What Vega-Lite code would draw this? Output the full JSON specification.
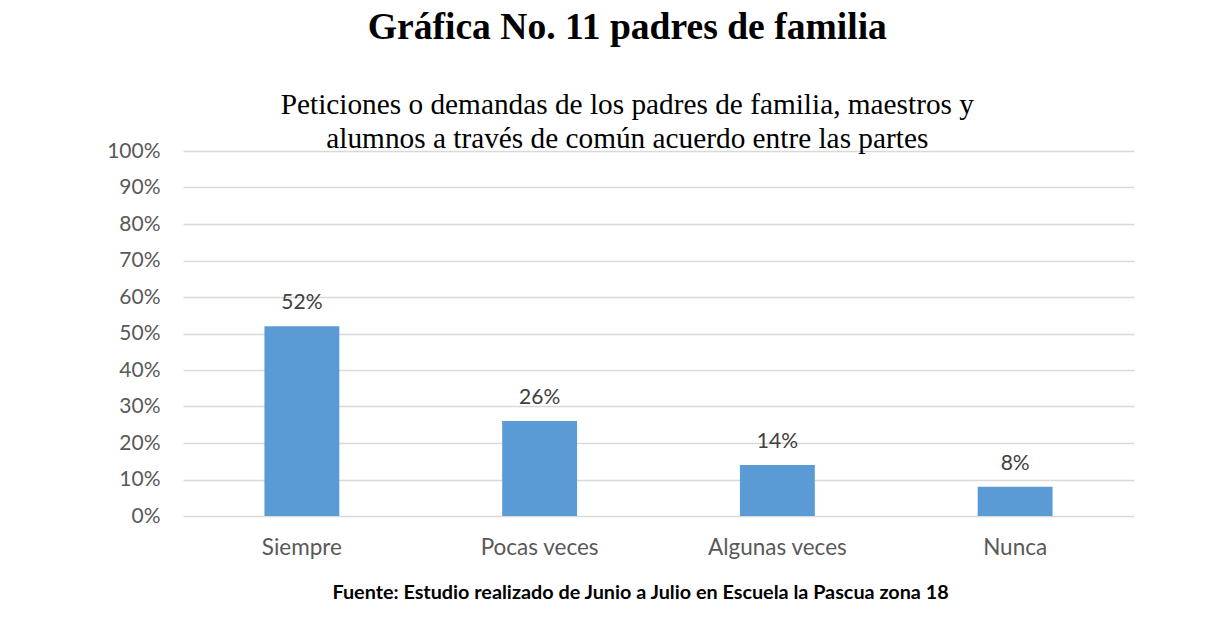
{
  "$schema": "https://vega.github.io/schema/vega-lite/v6.json",
  "width": 951,
  "height": 365,
  "autosize": {"type": "none"},
  "padding": {"left": 183, "top": 151, "right": 86, "bottom": 122},
  "background": "white",
  "title": {
    "text": "Gráfica No. 11 padres de familia",
    "subtitle": ["Peticiones o demandas de los padres de familia, maestros y", "alumnos a través de común acuerdo entre las partes"],
    "font": "Liberation Serif",
    "fontSize": 37.6,
    "fontWeight": "bold",
    "color": "#000000",
    "subtitleFont": "Liberation Serif",
    "subtitleFontSize": 29.3,
    "subtitleColor": "#000000",
    "subtitleLineHeight": 34,
    "subtitlePadding": 44,
    "anchor": "middle",
    "frame": "bounds",
    "dx": 7,
    "offset": -14
  },
  "data": {
    "values": [
      {"categoria": "Siempre", "porcentaje": 0.52},
      {"categoria": "Pocas veces", "porcentaje": 0.26},
      {"categoria": "Algunas veces", "porcentaje": 0.14},
      {"categoria": "Nunca", "porcentaje": 0.08}
    ]
  },
  "encoding": {
    "x": {
      "field": "categoria",
      "type": "nominal",
      "sort": null,
      "scale": {"paddingInner": 0.685, "paddingOuter": 0.3425},
      "axis": {
        "title": "Fuente: Estudio realizado de Junio a Julio en Escuela la Pascua zona 18",
        "titleFont": "Lato",
        "titleFontSize": 19.8,
        "titleFontWeight": "bold",
        "titleColor": "#000000",
        "titleX": 457,
        "titleY": 82,
        "titleBaseline": "alphabetic",
        "titleAlign": "center",
        "labelAngle": 0,
        "labelFont": "Lato",
        "labelFontSize": 22.5,
        "labelColor": "#595959",
        "labelPadding": 20,
        "ticks": false,
        "tickSize": 0,
        "domain": false,
        "grid": false
      }
    },
    "y": {
      "field": "porcentaje",
      "type": "quantitative",
      "scale": {"domain": [0, 1]},
      "axis": {
        "title": null,
        "format": ".0%",
        "values": [0, 0.1, 0.2, 0.3, 0.4, 0.5, 0.6, 0.7, 0.8, 0.9, 1],
        "labelFont": "Lato",
        "labelFontSize": 21,
        "labelColor": "#595959",
        "labelPadding": 23,
        "ticks": false,
        "tickSize": 0,
        "domain": false,
        "grid": true,
        "gridColor": "#d9d9d9",
        "gridWidth": 1.3
      }
    }
  },
  "layer": [
    {"mark": {"type": "bar", "color": "#5b9bd5"}},
    {
      "mark": {"type": "text", "font": "Lato", "fontSize": 21, "color": "#404040", "baseline": "alphabetic", "dy": -17},
      "encoding": {"text": {"field": "porcentaje", "type": "quantitative", "format": ".0%"}}
    }
  ],
  "config": {"view": {"stroke": null}}
}
